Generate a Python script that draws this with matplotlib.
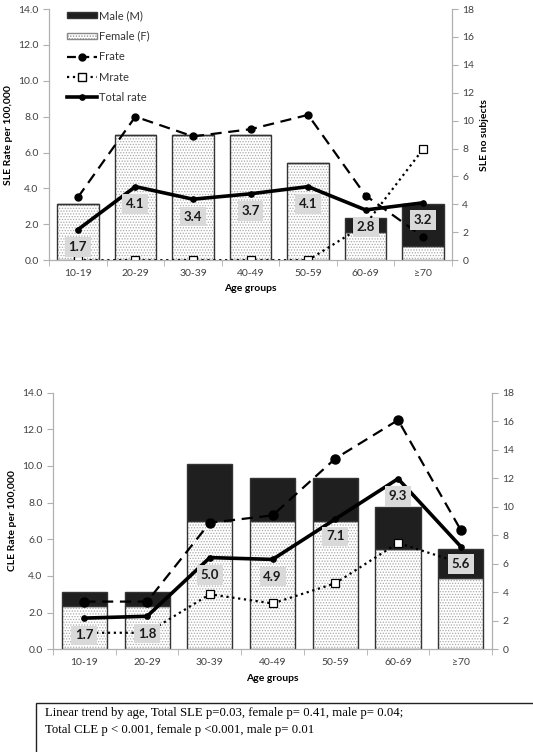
import matplotlib.pyplot as plt
from matplotlib.patches import Patch, Rectangle
from matplotlib.lines import Line2D

# ===========================
# Datos
# ===========================
age_groups = ["10-19", "20-29", "30-39", "40-49", "50-59", "60-69", "\u226570"]

# SLE (panel superior) - barras en numero de sujetos (eje derecho)
sle_female_n = [4, 9, 9, 9, 7, 2, 1]
sle_male_n = [0, 0, 0, 0, 0, 1, 3]
sle_frate = [3.5, 8.0, 6.9, 7.3, 8.1, 3.6, 1.3]
sle_mrate = [0.0, 0.0, 0.0, 0.0, 0.0, 2.0, 6.2]
sle_total = [1.7, 4.1, 3.4, 3.7, 4.1, 2.8, 3.2]

# CLE (panel inferior)
cle_female_n = [3, 3, 9, 9, 9, 7, 5]
cle_male_n = [1, 1, 4, 3, 3, 3, 2]
cle_frate = [2.6, 2.6, 6.9, 7.3, 10.4, 12.5, 6.5]
cle_mrate = [0.9, 0.9, 3.0, 2.5, 3.6, 5.8, 4.7]
cle_total = [1.7, 1.8, 5.0, 4.9, 7.1, 9.3, 5.6]

note_lines = ["Linear trend by age, Total SLE p=0.03, female p= 0.41, male p= 0.04;",
              "Total CLE p < 0.001, female p <0.001, male p= 0.01"]

plt.rcParams['font.family'] = ['Lato', 'DejaVu Sans']
plt.rcParams['hatch.linewidth'] = 0.6

GRAY = "#404040"
SPINE = "#b0b0b0"
DARK = "#1f1f1f"


def panel(fig, rect, female, male, frate, mrate, total, ylabel, ylabel2, ms_f):
    ax2 = fig.add_axes(rect)
    ax = ax2.twinx()
    ax.yaxis.tick_left()
    ax.yaxis.set_label_position("left")
    ax2.yaxis.tick_right()
    ax2.yaxis.set_label_position("right")
    ax.set_zorder(ax2.get_zorder() + 1)
    ax.patch.set_visible(False)

    x = list(range(len(age_groups)))
    w = 0.72
    # barras
    ax2.bar(x, female, w, color="white", edgecolor="#a8a8a8", hatch="......", linewidth=0)
    ax2.bar(x, female, w, color="none", edgecolor="#333333", linewidth=1.0)
    ax2.bar(x, male, w, bottom=female, color=DARK, edgecolor="#333333", linewidth=1.0)

    ax.plot(x, frate, ls=(0, (5, 3)), color="black", lw=1.6, marker="o", ms=ms_f)
    ax.plot(x, mrate, ls=":", color="black", lw=1.6, marker="s", ms=5.5,
            mfc="white", mec="black", mew=0.9)
    ax.plot(x, total, ls="-", color="black", lw=2.6, marker="o", ms=3.8)

    for xi, v in zip(x, total):
        ax.annotate(f"{v:.1f}", (xi, v), xytext=(0, -12.5), textcoords="offset points",
                    ha="center", va="center", fontsize=9.5, fontweight="bold", color="#1a1a1a",
                    bbox=dict(boxstyle="square,pad=0.28", fc="#d9d9d9", ec="none"), zorder=5)

    ax.set_ylim(0, 14)
    ax.set_yticks([0, 2, 4, 6, 8, 10, 12, 14])
    ax.set_yticklabels([f"{t:.1f}" for t in range(0, 15, 2)])
    ax2.set_ylim(0, 18)
    ax2.set_yticks(range(0, 19, 2))
    ax2.set_xlim(-0.5, 6.5)
    ax2.set_xticks(x)
    ax2.set_xticklabels(age_groups)
    ax2.set_xticks([i + 0.5 for i in range(-1, 7)], minor=True)
    ax2.tick_params(axis="x", which="major", length=0, pad=6, labelsize=7.5, labelcolor=GRAY)
    ax2.tick_params(axis="x", which="minor", length=4, color=SPINE)
    ax2.tick_params(axis="y", length=4, color=SPINE, labelsize=7.5, labelcolor=GRAY)
    ax.tick_params(axis="y", length=4, color=SPINE, labelsize=7.5, labelcolor=GRAY)

    for a in (ax, ax2):
        a.spines["top"].set_visible(False)
        for s in ("left", "right", "bottom"):
            a.spines[s].set_color(SPINE)

    ax.set_ylabel(ylabel, fontsize=7.5, fontweight="bold", color="black", labelpad=4)
    if ylabel2:
        ax2.set_ylabel(ylabel2, fontsize=7.5, fontweight="bold", color="black", labelpad=4)
    ax2.set_xlabel("Age groups", fontsize=7.5, fontweight="bold", color="black", labelpad=5)
    return ax, ax2


fig = plt.figure(figsize=(5.33, 7.52), dpi=100)

ax_top, _ = panel(fig, [0.092, 0.654, 0.756, 0.334], sle_female_n, sle_male_n,
                  sle_frate, sle_mrate, sle_total, "SLE Rate per 100,000", "SLE no subjects", 5)

handles = [
    Patch(facecolor=DARK, edgecolor="#333333"),
    Patch(facecolor="white", edgecolor="#888888", hatch="......"),
    Line2D([], [], ls=(0, (4, 2)), color="black", lw=1.6, marker="o", ms=5),
    Line2D([], [], ls=":", color="black", lw=1.6, marker="s", ms=5.5, mfc="white", mec="black"),
    Line2D([], [], ls="-", color="black", lw=2.6, marker="o", ms=3.8),
]
labels = ["Male (M)", "Female (F)", "Frate", "Mrate", "Total rate"]
leg = ax_top.legend(handles, labels, loc="upper left", bbox_to_anchor=(0.02, 1.035), frameon=False,
                    fontsize=8, handlelength=2.7, handleheight=0.5, labelspacing=0.85,
                    handletextpad=0.15)
for t in leg.get_texts():
    t.set_color("#333333")

panel(fig, [0.0994, 0.1366, 0.824, 0.3414], cle_female_n, cle_male_n,
      cle_frate, cle_mrate, cle_total, "CLE Rate per 100,000", None, 6.5)

# Nota inferior
fig.patches.append(Rectangle((36 / 533, -0.1), 1.0, 0.1 + 49 / 752, transform=fig.transFigure,
                             fill=False, edgecolor="#222222", linewidth=1.0))
fig.text(45 / 533, 1 - 713 / 752, note_lines[0], family="Liberation Serif", fontsize=9.2,
         va="center", ha="left")
fig.text(45 / 533, 1 - 730 / 752, note_lines[1], family="Liberation Serif", fontsize=9.2,
         va="center", ha="left")

fig.savefig("out.png", dpi=100)
